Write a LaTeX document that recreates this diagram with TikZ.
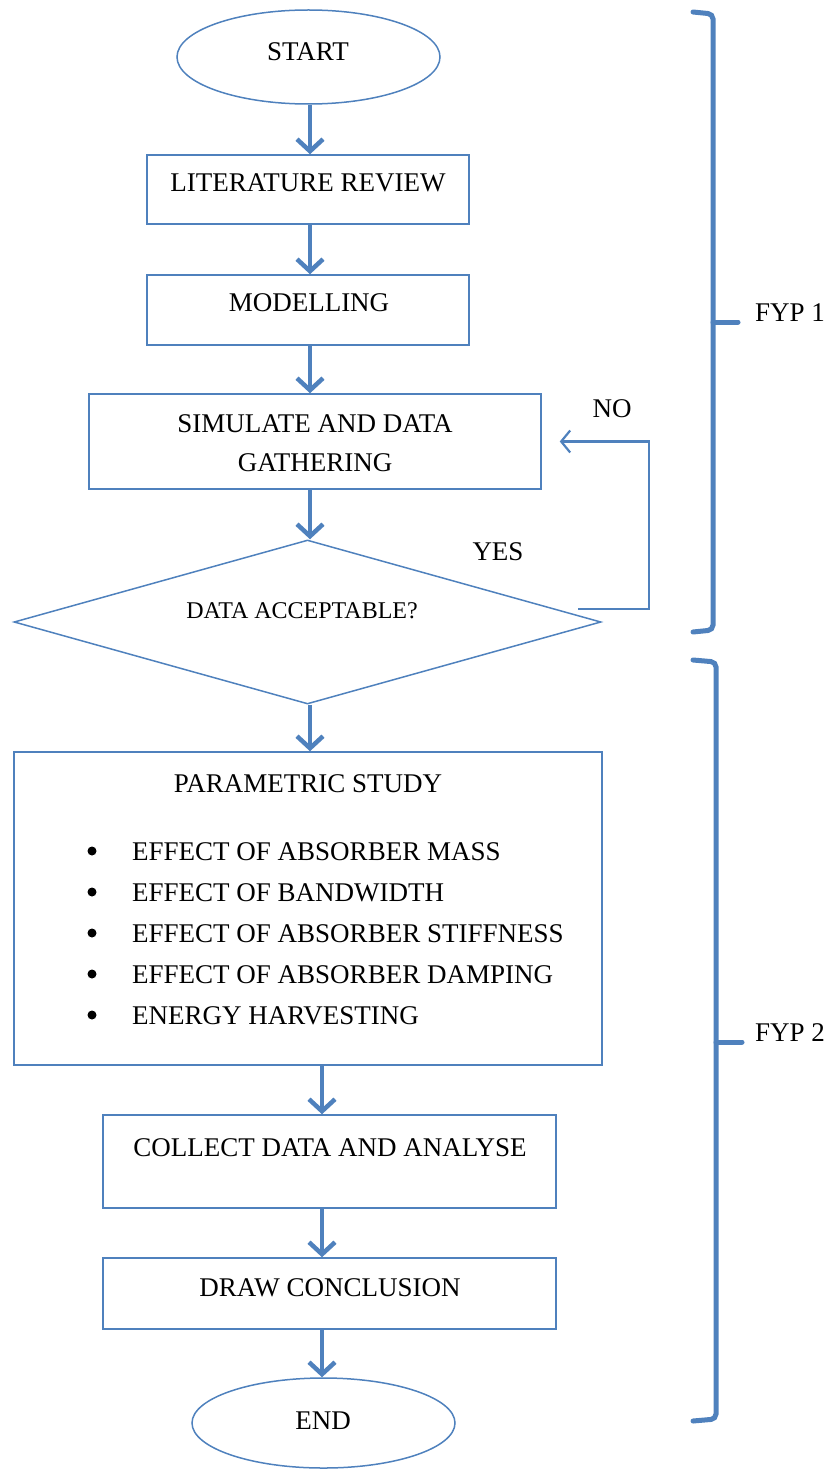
\documentclass[tikz,border=0pt]{standalone}
\usepackage{fontspec}
\setmainfont{Liberation Serif}
\usetikzlibrary{arrows.meta,shapes.geometric,calc}
\definecolor{obl}{HTML}{4F81BD}
\tikzset{
  box/.style={draw=obl,line width=1.5pt,inner sep=0pt,fill=white},
  term/.style={ellipse,draw=obl,line width=1.5pt,inner sep=0pt},
  dec/.style={diamond,draw=obl,line width=1.5pt,inner sep=0pt,aspect=3.58},
  txt/.style={anchor=base,inner sep=0pt,font=\fontsize{27}{32}\selectfont},
  txtl/.style={anchor=base west,inner sep=0pt,font=\fontsize{27}{32}\selectfont},
  bul/.style={circle,fill=black,inner sep=0pt,minimum size=9pt},
  flow/.style={draw=obl,line width=4.5pt,-{Straight Barb[length=12pt,width=26pt,line width=4.5pt]}},
  back/.style={draw=obl,line width=2.2pt,-{Straight Barb[length=9pt,width=22pt,line width=2.2pt]}},
  brace/.style={draw=obl,line width=5pt,rounded corners=5pt,line cap=round}
}
\begin{document}
\begin{tikzpicture}[x=1pt,y=-1pt]
\useasboundingbox (0,0) rectangle (830,1471);
% shapes
\node[term,minimum width=263pt,minimum height=94pt] (start) at (308.5,57) {};
\node[box,minimum width=322pt,minimum height=69pt] (lit) at (308,189.5) {};
\node[box,minimum width=322pt,minimum height=70pt] (mod) at (308,310) {};
\node[box,minimum width=452pt,minimum height=95pt] (sim) at (315,441.5) {};
\node[dec,minimum width=587pt,minimum height=164pt] (acc) at (307.5,622) {};
\node[box,minimum width=588pt,minimum height=313pt] (par) at (308,908.5) {};
\node[box,minimum width=453pt,minimum height=93pt] (col) at (329.5,1161.5) {};
\node[box,minimum width=453pt,minimum height=71pt] (con) at (329.5,1293.5) {};
\node[term,minimum width=263pt,minimum height=90pt] (end) at (323.5,1423) {};
% texts
\node[txt] (tstart) at (308,61) {START};
\node[txt] (tlit) at (308,192) {LITERATURE REVIEW};
\node[txt] (tmod) at (309,311) {MODELLING};
\node[txt] (tsim1) at (315,432) {SIMULATE AND DATA};
\node[txt] (tsim2) at (315,471) {GATHERING};
\node[txt,font=\fontsize{24}{28}\selectfont] (tacc) at (302,618) {DATA ACCEPTABLE?};
\node[txt] (tno) at (612,417) {NO};
\node[txt] (tyes) at (498,560) {YES};
\node[txt] (tpar) at (308,792) {PARAMETRIC STUDY};
\foreach \y/\t [count=\i] in {851/EFFECT OF ABSORBER MASS,892/EFFECT OF BANDWIDTH,933/EFFECT OF ABSORBER STIFFNESS,974/EFFECT OF ABSORBER DAMPING,1015/ENERGY HARVESTING}{
  \node[bul] (b\i) at (92,\y) {};
  \node[txtl] (l\i) at (132,\y+9) {\t};
}
\node[txt] (tcol) at (330,1156) {COLLECT DATA AND ANALYSE};
\node[txt] (tcon) at (330,1296) {DRAW CONCLUSION};
\node[txt] (tend) at (323,1429) {END};
\node[txtl] (fyp1) at (755,321) {FYP 1};
\node[txtl] (fyp2) at (755,1041) {FYP 2};
% connectors
\draw[flow] (start.south -| 310,0) -- (lit.north -| 310,0);
\draw[flow] (lit.south -| 310,0) -- (mod.north -| 310,0);
\draw[flow] (mod.south -| 310,0) -- (sim.north -| 310,0);
\draw[flow] (sim.south -| 310,0) -- (acc.north -| 310,0);
\draw[flow] (acc.south -| 310,0) -- (par.north -| 310,0);
\draw[flow] (par.south -| 322,0) -- (col.north -| 322,0);
\draw[flow] (col.south -| 322,0) -- (con.north -| 322,0);
\draw[flow] (con.south -| 322,0) -- (end.north -| 322,0);
\coordinate (ls) at (578,609);
\coordinate (lc) at (649,609);
\draw[back,shorten >=18pt] (ls) -- (lc) |- (sim.east);
% braces
\draw[brace] (693,12) -- (713,14) -- (713,630) -- (693,632);
\draw[brace] (713,322) -- (738,322);
\draw[brace] (693,660) -- (716,662) -- (716,1419) -- (693,1421);
\draw[brace] (716,1042) -- (742,1042);
\end{tikzpicture}
\end{document}
